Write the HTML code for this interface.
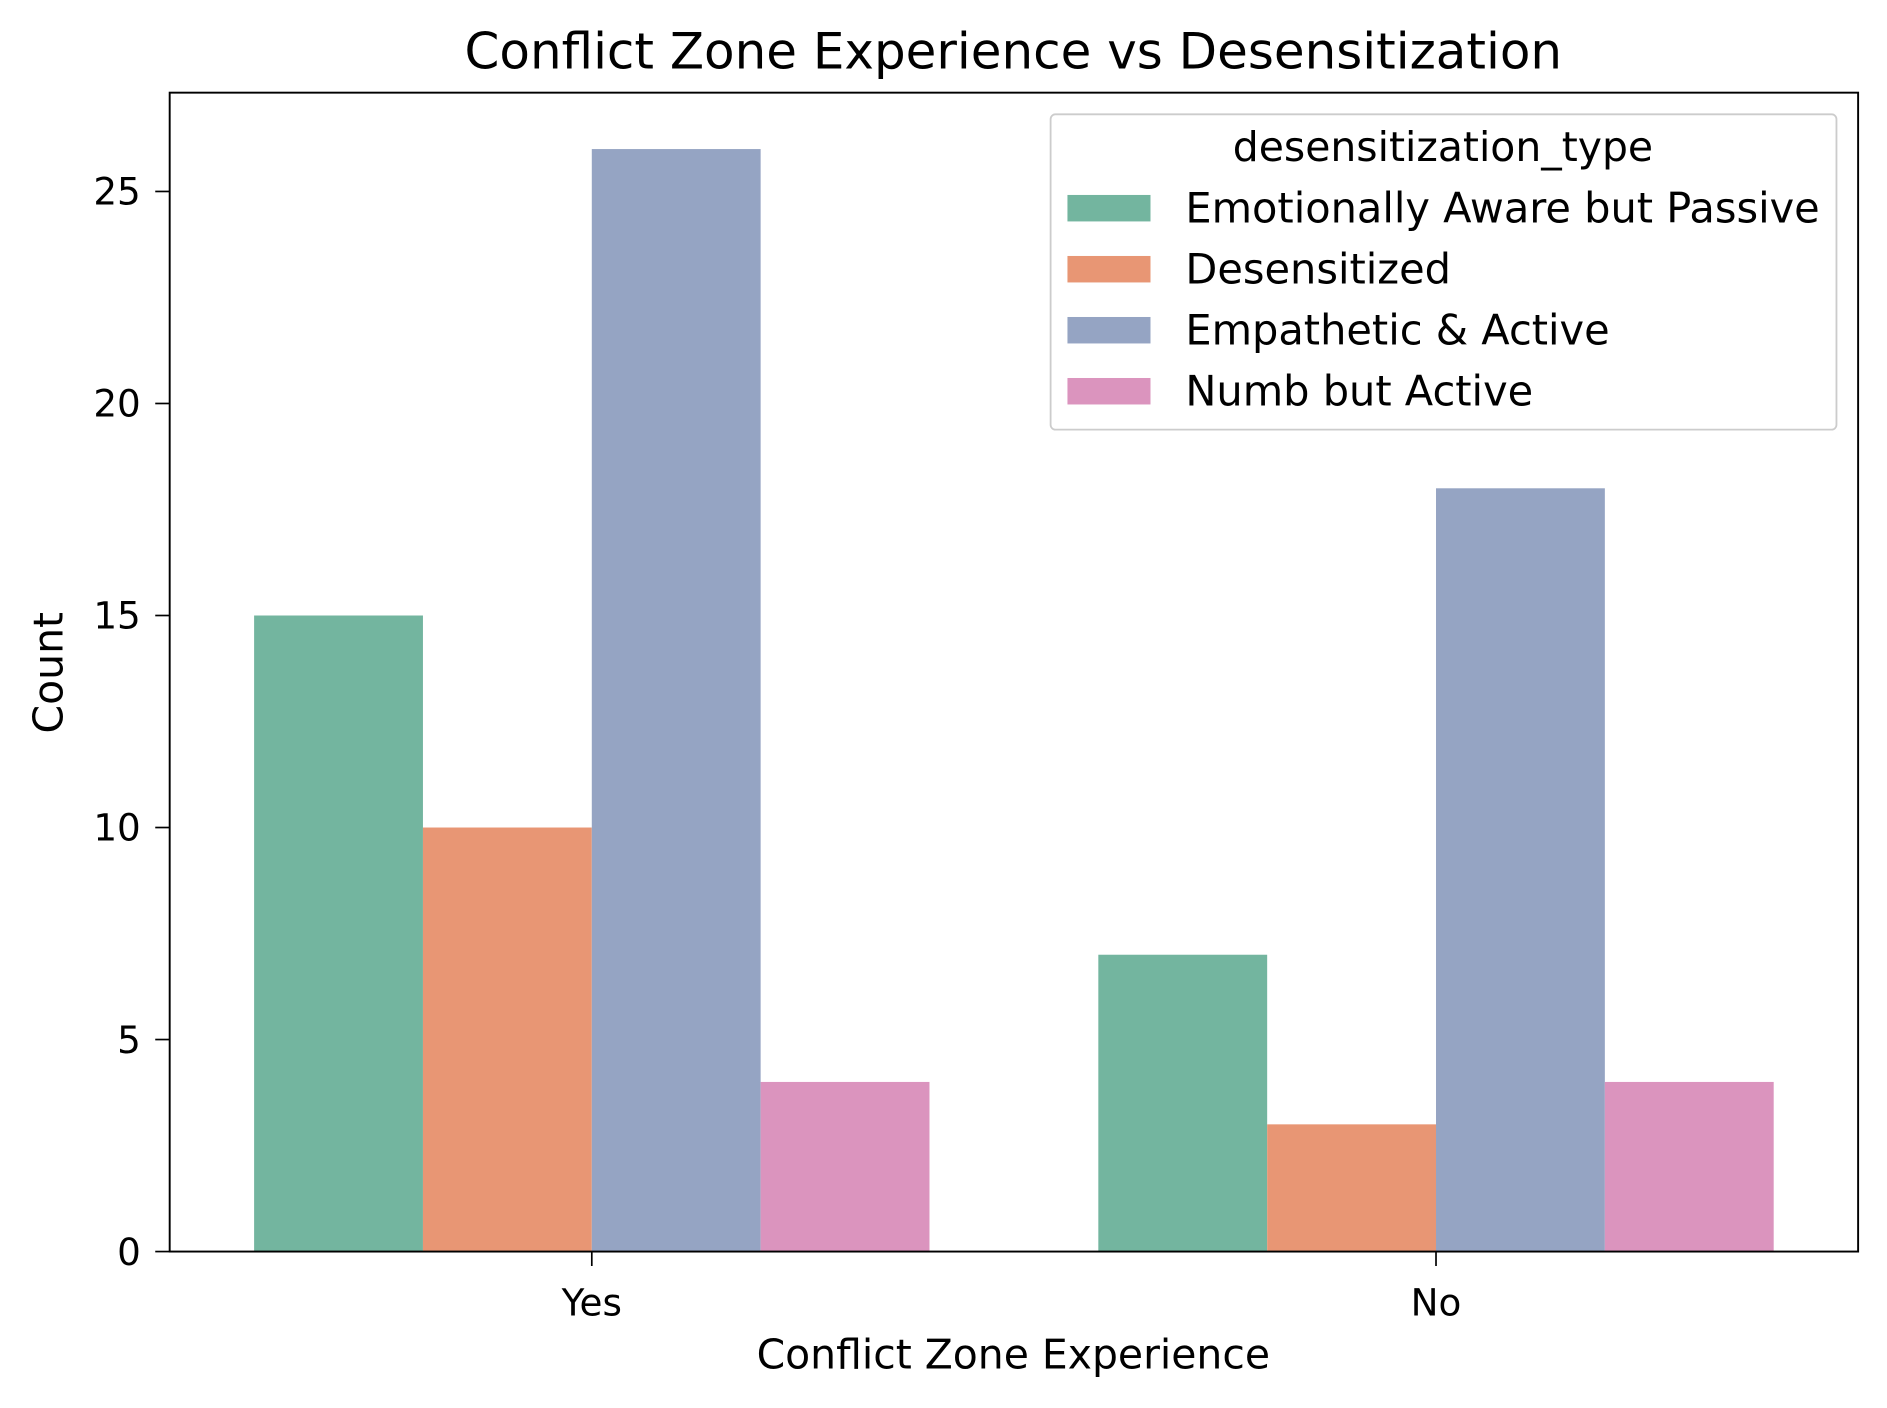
<!DOCTYPE html>
<html><head><meta charset="utf-8"><style>
html,body{margin:0;padding:0;background:#fff;}
svg{display:block;font-family:"DejaVu Sans","Liberation Sans",sans-serif;}
</style></head><body>
<svg id="chart" width="1887" height="1408" viewBox="0 0 1568 1170" preserveAspectRatio="none" xmlns="http://www.w3.org/2000/svg">
<text x="842" y="57" text-anchor="middle" font-size="41.5">Conflict Zone Experience vs Desensitization</text>
<g id="bars"></g>
<g id="axes"></g>
<text x="842" y="1137" text-anchor="middle" font-size="34">Conflict Zone Experience</text>
<text transform="translate(52,559) rotate(-90)" text-anchor="middle" font-size="34">Count</text>
<g id="legend"></g>
</svg>
<script>
const categories = ["Yes", "No"];
const seriesNames = ["Emotionally Aware but Passive", "Desensitized", "Empathetic & Active", "Numb but Active"];
const seriesColors = ["#73b59f", "#e89674", "#95a4c3", "#db94be"];
const emotionallyAware = [15, 7];
const desensitized = [10, 3];
const empathetic = [26, 18];
const numb = [4, 4];
const yTicks = [0, 5, 10, 15, 20, 25];

const series = [emotionallyAware, desensitized, empathetic, numb];
const NS = "http://www.w3.org/2000/svg";
const L = 141, R = 1544, T = 77, B = 1040, YMAX = 27.33;
const xScale = v => L + (v + 0.5) / 2 * (R - L);
const yScale = v => B - v / YMAX * (B - T);
function mk(tag, attrs, parent) {
  const e = document.createElementNS(NS, tag);
  for (const k in attrs) e.setAttribute(k, attrs[k]);
  parent.appendChild(e);
  return e;
}
const bars = document.getElementById("bars");
series.forEach((vals, s) => {
  vals.forEach((v, c) => {
    const x0 = xScale(c - 0.4 + s * 0.2), x1 = xScale(c - 0.4 + (s + 1) * 0.2);
    const r = mk("rect", {x: x0, y: yScale(v), width: x1 - x0, height: yScale(0) - yScale(v), fill: seriesColors[s]}, bars);
    
    
  });
});
const axes = document.getElementById("axes");
const frame = mk("rect", {x: L, y: T, width: R - L, height: B - T, fill: "none", stroke: "#000", "stroke-width": 1.6}, axes);


yTicks.forEach(t => {
  const y = yScale(t);
  mk("line", {x1: L - 12, x2: L, y1: y, y2: y, stroke: "#000", "stroke-width": 1.4}, axes);
  const tx = mk("text", {x: L - 24, y: y + 11, "text-anchor": "end", "font-size": 31}, axes);
  tx.textContent = t;
  
  
});
categories.forEach((c, i) => {
  const x = xScale(i);
  mk("line", {x1: x, x2: x, y1: B, y2: B + 12, stroke: "#000", "stroke-width": 1.4}, axes);
  const tx = mk("text", {x: x, y: B + 53, "text-anchor": "middle", "font-size": 31}, axes);
  tx.textContent = c;
  
  
});
const lg = document.getElementById("legend");
const box = mk("rect", {x: 873, y: 95, width: 653, height: 262, rx: 4, fill: "#fff", "fill-opacity": 0.8, stroke: "#ccc", "stroke-width": 1.5}, lg);


const lt = mk("text", {x: 1199, y: 134, "text-anchor": "middle", "font-size": 34}, lg);
lt.textContent = "desensitization_type";


seriesNames.forEach((n, i) => {
  const cy = 173 + i * 50.7;
  const p = mk("rect", {x: 887, y: cy - 11, width: 69, height: 22, fill: seriesColors[i]}, lg);
  
  
  const t = mk("text", {x: 985, y: cy + 12, "font-size": 34.5}, lg);
  t.textContent = n;
  
  
});
</script>
</body></html>
